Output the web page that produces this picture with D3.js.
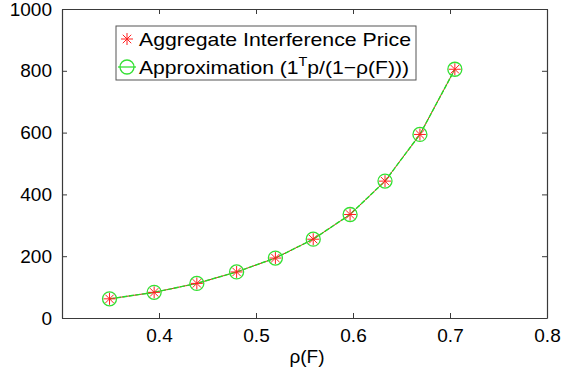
<!DOCTYPE html>
<html>
<head>
<meta charset="utf-8">
<script src="https://cdn.jsdelivr.net/npm/d3@7"></script>
<style>
  body { margin: 0; background: #fff; }
  text { font-family: "Liberation Sans", Arial, sans-serif; }
</style>
</head>
<body>
<div id="chart"></div>
<script>
// values
var rho = [0.349, 0.395, 0.439, 0.480, 0.520, 0.559, 0.597, 0.633, 0.669, 0.705]
var aggregatePrice = [62, 83, 112, 149, 194, 255, 335, 443, 594, 805]
var approxPrice = [62, 83, 112, 149, 194, 255, 335, 443, 594, 805]
var xTicks = [0.4, 0.5, 0.6, 0.7, 0.8]
var yTicks = [0, 200, 400, 600, 800, 1000]

var width = 577, height = 373
  , plotLeft = 62, plotRight = 547, plotTop = 9, plotBottom = 318
  , axisColor = '#3a3a3a'
  , xScale = d3.scaleLinear().domain([0.3, 0.8]).range([plotLeft, plotRight])
  , yScale = d3.scaleLinear().domain([0, 1000]).range([plotBottom, plotTop])
  , svg = d3.select('#chart').append('svg')
    .attr('width', width)
    .attr('height', height)

// box with inward ticks on every side
function styleAxis(g) {
  g.select('.domain').attr('stroke', axisColor).attr('stroke-width', 1.2)
  g.selectAll('.tick line').attr('stroke', axisColor).attr('stroke-width', 1)
  g.selectAll('.tick text').attr('fill', '#000').style('font-size', '19px')
}

svg.append('g')
  .attr('transform', 'translate(0,' + plotBottom + ')')
  .call(d3.axisBottom(xScale).tickValues(xTicks).tickSizeInner(-5).tickSizeOuter(0).tickPadding(11).tickFormat(d3.format('.1f')))
  .call(styleAxis)

svg.append('g')
  .attr('transform', 'translate(0,' + plotTop + ')')
  .call(d3.axisTop(xScale).tickValues(xTicks).tickSizeInner(-5).tickSizeOuter(0).tickFormat(''))
  .call(styleAxis)

svg.append('g')
  .attr('transform', 'translate(' + plotLeft + ',0)')
  .call(d3.axisLeft(yScale).tickValues(yTicks).tickSizeInner(-5).tickSizeOuter(0).tickPadding(10).tickFormat(d3.format('d')))
  .call(styleAxis)

svg.append('g')
  .attr('transform', 'translate(' + plotRight + ',0)')
  .call(d3.axisRight(yScale).tickValues(yTicks).tickSizeInner(-5).tickSizeOuter(0).tickFormat(''))
  .call(styleAxis)

// x label
svg.append('text')
  .attr('x', 307)
  .attr('y', 363)
  .attr('text-anchor', 'middle')
  .style('font-size', '19px')
  .text('ρ(F)')

var idx = d3.range(rho.length)

var line = function(values) {
  return d3.line()
    .x(function(i) { return xScale(rho[i]) })
    .y(function(i) { return yScale(values[i]) })(idx)
}

svg.append('path')
  .attr('d', line(aggregatePrice))
  .attr('fill', 'none')
  .attr('stroke', '#e02020')
  .attr('stroke-width', 1)

svg.append('path')
  .attr('d', line(approxPrice))
  .attr('fill', 'none')
  .attr('stroke', '#22dd22')
  .attr('stroke-width', 1.4)
  .attr('stroke-dasharray', '5,1.5')

function drawCircle(g, x, y) {
  g.append('circle')
    .attr('cx', x).attr('cy', y).attr('r', 7)
    .attr('fill', 'none')
    .attr('stroke', '#33e033')
    .attr('stroke-width', 1.3)
}

function drawStar(g, x, y) {
  var r = 6
  ;[0, 45, 90, 135].forEach(function(a) {
    var rad = a * Math.PI / 180
    g.append('line')
      .attr('x1', x - r * Math.cos(rad)).attr('y1', y - r * Math.sin(rad))
      .attr('x2', x + r * Math.cos(rad)).attr('y2', y + r * Math.sin(rad))
      .attr('stroke', '#ff2020')
      .attr('stroke-width', 1)
  })
}

var marks = svg.append('g')
idx.forEach(function(i) {
  drawCircle(marks, xScale(rho[i]), yScale(approxPrice[i]))
  drawStar(marks, xScale(rho[i]), yScale(aggregatePrice[i]))
})

// legend
var legend = svg.append('g')
legend.append('rect')
  .attr('x', 116).attr('y', 26)
  .attr('width', 300).attr('height', 54)
  .attr('fill', '#fff')
  .attr('stroke', '#555')
  .attr('stroke-width', 1)

drawStar(legend, 127, 39)
legend.append('line')
  .attr('x1', 118).attr('x2', 136).attr('y1', 67).attr('y2', 67)
  .attr('stroke', '#33e033').attr('stroke-width', 1.3)
drawCircle(legend, 127, 67)

// the reference font runs a bit wider, so stretch to its measured width
legend.append('text')
  .attr('x', 139).attr('y', 46)
  .attr('textLength', 272)
  .attr('lengthAdjust', 'spacingAndGlyphs')
  .style('font-size', '19px')
  .text('Aggregate Interference Price')

var t2 = legend.append('text')
  .attr('x', 139).attr('y', 74)
  .attr('textLength', 270)
  .attr('lengthAdjust', 'spacingAndGlyphs')
  .style('font-size', '19px')
t2.append('tspan').text('Approximation (1')
t2.append('tspan').attr('dy', -8).style('font-size', '13px').text('T')
t2.append('tspan').attr('dy', 8).text('p/(1\u2212ρ(F)))')
</script>
</body>
</html>
